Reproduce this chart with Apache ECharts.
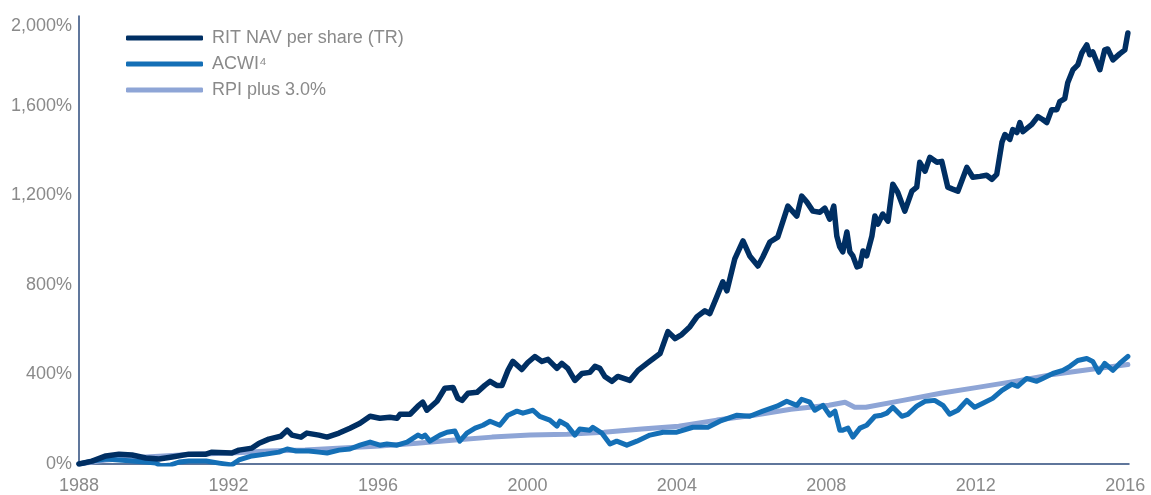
<!DOCTYPE html>
<html>
<head>
<meta charset="utf-8">
<script src="https://cdn.jsdelivr.net/npm/echarts@6/dist/echarts.min.js"></script>
<style>
html,body{margin:0;padding:0;background:#fff;}
#c{width:1151px;height:495px;}
</style>
</head>
<body>
<div id="c"></div>
<script>
// [year, cumulative return %]
const ritYears = [1988.00,1988.35,1988.72,1989.07,1989.42,1989.79,1990.14,1990.49,1990.94,1991.40,1991.56,1992.09,1992.28,1992.63,1992.82,1993.08,1993.40,1993.57,1993.70,1993.94,1994.10,1994.42,1994.64,1994.96,
1995.25,1995.52,1995.79,1996.05,1996.32,1996.51,1996.59,1996.86,1997.07,1997.20,1997.31,1997.58,1997.79,1998.01,1998.14,1998.25,1998.41,1998.65,1998.86,1999.00,1999.18,1999.32,1999.48,1999.61,1999.85,2000.01,2000.20,2000.39,2000.55,2000.79,2000.92,2001.08,2001.27,2001.46,2001.67,
2001.81,2001.94,2002.07,2002.26,2002.42,2002.74,2002.96,2003.20,2003.55,2003.76,2003.95,2004.13,2004.35,2004.54,2004.75,2004.88,2005.07,2005.23,2005.34,2005.55,2005.77,2005.95,2006.17,2006.30,2006.49,2006.70,2006.84,2006.97,2007.21,2007.34,2007.48,2007.64,2007.83,2007.96,2008.09,2008.20,2008.28,2008.36,
2008.44,2008.55,2008.63,2008.71,2008.82,2008.90,2008.98,2009.08,2009.22,2009.30,2009.38,2009.51,2009.65,2009.78,2009.91,2010.10,2010.29,2010.42,2010.50,2010.64,2010.77,2010.96,2011.09,2011.25,2011.38,2011.52,2011.76,2011.92,2012.11,2012.29,2012.43,2012.56,2012.70,2012.78,2012.91,2012.99,2013.10,2013.18,2013.26,2013.50,2013.66,2013.79,2013.90,2014.03,2014.17,2014.25,2014.38,2014.46,2014.60,2014.73,2014.84,2014.97,2015.05,2015.13,2015.32,2015.45,2015.53,2015.67,2015.85,2015.99,2016.07];
const ritValues = [0,13,36,44,40,27,22,31,44,44,53,49,62,71,93,111,124,151,129,120,138,129,120,138,
160,182,213,204,209,204,222,222,258,276,240,280,338,342,293,284,316,320,351,369,351,351,418,458,422,453,480,458,467,427,449,427,373,404,409,
436,427,391,369,391,373,418,449,493,591,560,578,613,658,684,671,747,813,773,916,996,929,884,924,991,1013,1084,1151,1107,1196,1169,1129,1124,1142,1093,1151,1018,969,
947,1036,947,929,880,884,951,929,1018,1107,1071,1116,1084,1249,1213,1129,1218,1236,1347,1307,1369,1347,1351,1236,1227,1218,1324,1280,1284,1289,1271,1293,1436,1471,1449,1493,1480,1524,1484,1516,1551,1538,1524,1582,1582,1618,1631,1702,1760,1782,1836,1871,1827,1840,1760,1849,1853,1804,1831,1849,1924];

const acwiYears = [1988.00,1988.35,1988.72,1989.07,1989.42,1989.79,1990.06,1990.19,1990.46,1990.68,1990.94,1991.40,1991.75,1992.09,1992.28,1992.63,1993.00,1993.35,1993.57,1993.81,1994.15,1994.42,1994.64,1994.96,
1995.25,1995.52,1995.79,1996.05,1996.24,1996.51,1996.78,1997.07,1997.18,1997.26,1997.39,1997.66,1997.85,1998.06,1998.19,1998.38,1998.60,1998.81,1999.00,1999.26,1999.48,1999.72,1999.88,2000.15,2000.33,2000.60,2000.79,2000.87,2001.06,2001.27,2001.40,2001.67,
2001.75,2001.99,2002.21,2002.39,2002.66,2002.93,2003.28,2003.63,2004.00,2004.43,2004.83,2005.15,2005.61,2005.95,2006.30,2006.68,2006.94,2007.21,2007.34,2007.56,2007.69,2007.91,2008.09,2008.23,2008.36,
2008.44,2008.58,2008.71,2008.90,2009.08,2009.30,2009.48,2009.62,2009.78,2010.02,2010.18,2010.42,2010.64,2010.90,2011.12,2011.30,2011.52,2011.76,2011.97,2012.19,2012.45,2012.70,2012.96,2013.12,2013.36,2013.63,2013.79,2014.06,2014.33,2014.52,2014.73,2014.97,2015.13,2015.29,2015.45,2015.67,2015.85,2016.07];
const acwiValues = [0,13,22,18,13,9,4,-9,-4,9,13,13,4,-4,18,36,44,53,67,58,58,53,49,62,
67,84,98,84,89,84,98,129,120,129,102,129,142,147,102,138,160,173,191,173,218,236,227,240,213,196,169,191,173,129,156,151,
164,138,89,102,84,102,129,142,142,164,164,191,218,213,236,258,280,262,289,276,240,262,218,236,151,
151,160,120,160,173,213,218,227,253,213,222,258,280,284,262,222,240,284,253,271,293,329,356,347,382,369,382,404,418,436,462,471,458,409,449,418,449,480];

const rpiYears = [1988.00,1988.72,1989.79,1991.08,1992.09,1993.06,1994.05,1995.04,1996.05,1997.04,1998.06,1999.05,2000.07,2001.06,2002.05,2003.06,2004.05,2005.07,2006.06,2007.05,2008.07,2008.50,2008.76,2009.06,2010.05,2011.06,2012.05,2013.04,2014.06,2015.05,2016.07];
const rpiValues = [0,18,31,44,49,58,62,71,80,93,107,120,129,133,142,156,169,196,218,244,262,276,253,253,284,316,342,369,400,422,444];

const xTicks = [1988,1992,1996,2000,2004,2008,2012,2016];
const yTicks = [0,400,800,1200,1600,2000];
const seriesNames = ['RIT NAV per share (TR)','ACWI\u2074','RPI plus 3.0%'];

function pairs(xs, ys){ return xs.map((x,i)=>[x, ys[i]]); }

const FONT = '"Liberation Sans", Arial, sans-serif';
const chart = echarts.init(document.getElementById('c'), null, {renderer:'canvas'});
chart.setOption({
  animation:false,
  backgroundColor:'#ffffff',
  grid:{left:79, right:22, top:16, bottom:29, containLabel:false},
  legend:{
    orient:'vertical', left:126, top:29, padding:0,
    data:seriesNames,
    icon:'roundRect', itemWidth:77, itemHeight:5, itemGap:8,
    textStyle:{fontFamily:FONT, fontSize:18, color:'#8a8a8a', lineHeight:18, padding:[0,0,0,4]},
    selectedMode:false
  },
  xAxis:{
    type:'value', min:1988, max:2016.1, interval:4,
    axisLine:{show:true, lineStyle:{color:'#2b4a7b', width:1.5}},
    axisTick:{show:false}, splitLine:{show:false},
    axisLabel:{fontFamily:FONT, fontSize:18, color:'#8a8a8a', margin:13, showMaxLabel:true,
      formatter:v=> xTicks.indexOf(v)>=0 ? String(v) : ''}
  },
  yAxis:{
    type:'value', min:0, max:2000, interval:400,
    axisLine:{show:true, lineStyle:{color:'#2b4a7b', width:1.5}},
    axisTick:{show:false}, splitLine:{show:false},
    axisLabel:{fontFamily:FONT, fontSize:18, color:'#8a8a8a', margin:7,
      formatter:v=>{
        if (yTicks.indexOf(v)<0) return '';
        const s = v.toLocaleString('en-US')+'%';
        return v===2000 ? '{top|'+s+'}' : s;
      },
      rich:{top:{fontFamily:FONT, fontSize:18, color:'#8a8a8a', padding:[20,0,0,0]}}
    }
  },
  series:[
    {name:seriesNames[2], type:'line', data:pairs(rpiYears,rpiValues), showSymbol:false, smooth:false,
      lineStyle:{color:'#8ea5d6', width:5, cap:'round', join:'round'}, itemStyle:{color:'#8ea5d6'}, z:2},
    {name:seriesNames[1], type:'line', data:pairs(acwiYears,acwiValues), showSymbol:false,
      lineStyle:{color:'#146fb6', width:5, cap:'round', join:'round'}, itemStyle:{color:'#146fb6'}, z:3},
    {name:seriesNames[0], type:'line', data:pairs(ritYears,ritValues), showSymbol:false,
      lineStyle:{color:'#002f63', width:5.5, cap:'round', join:'round'}, itemStyle:{color:'#002f63'}, z:4}
  ]
});
</script>
</body>
</html>
